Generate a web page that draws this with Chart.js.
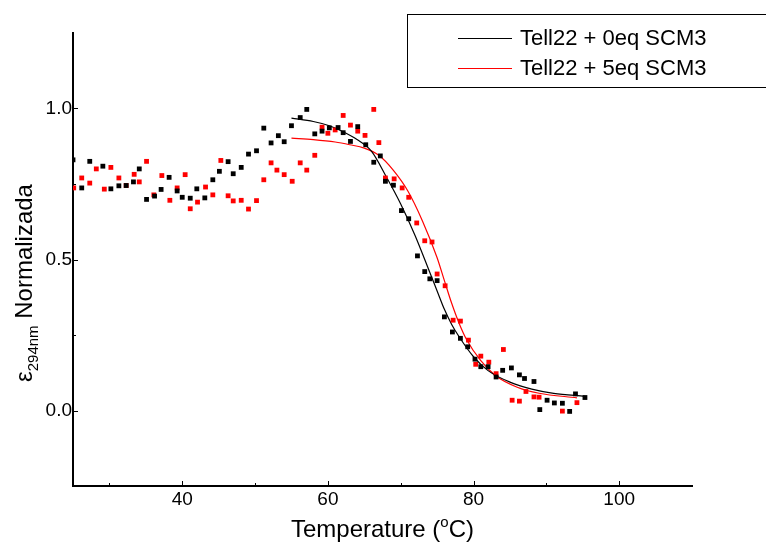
<!DOCTYPE html>
<html>
<head>
<meta charset="utf-8">
<script src="https://cdn.jsdelivr.net/npm/chart.js@4.4.0/dist/chart.umd.min.js"></script>
<style>
  html, body { margin: 0; padding: 0; background: #fff; }
  #wrap { width: 766px; height: 543px; position: relative; }
</style>
</head>
<body>
<div id="wrap"><canvas id="grafico"></canvas></div>
<script>
// Datos (T en 춿C, epsilon normalizada)
const tempNegro = [25.0, 26.2, 27.3, 29.1, 30.2, 31.3, 32.3, 33.3, 34.1, 35.1, 36.2, 37.1, 38.2, 39.3, 40.0, 41.1, 42.0, 43.1, 44.2, 45.1,
  46.3, 47.0, 48.1, 49.1, 50.2, 51.2, 52.2, 53.2, 54.0, 55.0, 56.2, 57.1, 58.2, 59.2, 60.2, 61.4, 62.1, 63.1, 64.1, 65.2,
  66.3, 67.2, 67.9, 69.0, 70.1, 71.1, 72.3, 73.3, 74.0, 75.0, 76.0, 77.1, 78.2, 79.2, 80.2, 81.0, 82.0, 83.1, 84.0, 85.2,
  86.3, 87.0, 88.3, 89.1, 90.1, 91.1, 92.2, 93.2, 94.0, 95.3];
const valNegro = [0.83, 0.737, 0.825, 0.809, 0.734, 0.744, 0.745, 0.757, 0.80, 0.699, 0.71, 0.732, 0.772, 0.727, 0.706, 0.703, 0.734, 0.704, 0.764, 0.792,
  0.824, 0.784, 0.805, 0.849, 0.86, 0.935, 0.886, 0.91, 0.89, 0.943, 0.97, 0.997, 0.916, 0.925, 0.936, 0.937, 0.92, 0.891, 0.94, 0.88,
  0.822, 0.843, 0.759, 0.746, 0.662, 0.635, 0.512, 0.46, 0.436, 0.43, 0.31, 0.26, 0.239, 0.211, 0.17, 0.145, 0.145, 0.111, 0.133, 0.141,
  0.118, 0.106, 0.096, 0.003, 0.034, 0.025, 0.024, -0.003, 0.055, 0.043];

const tempRojo = [25.1, 26.2, 27.3, 28.2, 29.3, 30.2, 31.3, 32.3, 33.4, 34.1, 35.1, 36.1, 37.2, 38.3, 39.3, 40.4, 41.1, 42.1, 43.2, 44.2,
  45.3, 46.3, 47.0, 48.1, 49.1, 50.2, 51.2, 52.2, 53.0, 54.0, 55.1, 56.2, 57.1, 58.2, 59.2, 60.0, 61.0, 62.1, 63.1, 64.1,
  65.1, 66.3, 67.0, 67.9, 69.1, 70.2, 71.1, 72.2, 73.3, 74.3, 75.0, 76.1, 77.2, 78.2, 79.3, 80.3, 81.0, 82.1, 83.1, 84.1,
  85.3, 86.3, 87.2, 88.3, 89.0, 92.2, 94.2];
const valRojo = [0.737, 0.77, 0.753, 0.80, 0.733, 0.805, 0.77, 0.745, 0.782, 0.757, 0.825, 0.714, 0.778, 0.696, 0.737, 0.781, 0.668, 0.69, 0.74, 0.714,
  0.828, 0.711, 0.694, 0.696, 0.667, 0.695, 0.764, 0.82, 0.796, 0.781, 0.759, 0.82, 0.796, 0.845, 0.938, 0.918, 0.929, 0.977, 0.945, 0.925,
  0.911, 0.997, 0.887, 0.77, 0.767, 0.737, 0.706, 0.621, 0.562, 0.558, 0.452, 0.413, 0.299, 0.296, 0.233, 0.153, 0.18, 0.16, 0.122, 0.202,
  0.034, 0.031, 0.063, 0.045, 0.044, -0.002, 0.026];

// Curvas de ajuste
const ajusteNegroT = [55, 58, 60.2, 62, 64, 66, 68, 70, 72, 74, 75, 76, 77, 78, 80, 82, 85, 88, 91, 95.3];
const ajusteNegroY = [0.968, 0.957, 0.943, 0.924, 0.897, 0.858, 0.775, 0.684, 0.578, 0.457, 0.396, 0.335, 0.285, 0.245, 0.178, 0.132, 0.094, 0.071, 0.057, 0.047];
const ajusteRojoT = [55, 58, 61, 63, 65, 67, 69, 71, 73, 75, 76, 77, 78, 79, 81, 83, 86, 89, 94.2];
const ajusteRojoY = [0.902, 0.897, 0.889, 0.88, 0.869, 0.845, 0.795, 0.726, 0.627, 0.506, 0.43, 0.355, 0.29, 0.237, 0.165, 0.116, 0.077, 0.057, 0.042];

const ticksX = [40, 60, 80, 100];
const ticksXMenor = [30, 50, 70, 90];
const ticksY = [0, 0.5, 1.0];
const ticksYMenor = [0.25, 0.75];
const leyenda = ['Tell22 + 0eq SCM3', 'Tell22 + 5eq SCM3'];

const FUENTE = '"Liberation Sans", Arial, sans-serif';
const ROJO = '#ff0000';

function puntos(xs, ys) {
  return xs.map((x, i) => ({ x: x, y: ys[i] }));
}

// marcas hacia dentro + titulos de ejes + leyenda con recuadro
const extras = {
  id: 'extras',
  afterDraw(chart) {
    const ctx = chart.ctx;
    const sx = chart.scales.x, sy = chart.scales.y;
    const a = chart.chartArea;
    ctx.save();
    ctx.strokeStyle = '#000';
    ctx.lineWidth = 1;
    ctx.beginPath();
    ticksX.forEach(v => { const p = Math.round(sx.getPixelForValue(v)) + 0.5; ctx.moveTo(p, a.bottom); ctx.lineTo(p, a.bottom - 5); });
    ticksXMenor.forEach(v => { const p = Math.round(sx.getPixelForValue(v)) + 0.5; ctx.moveTo(p, a.bottom); ctx.lineTo(p, a.bottom - 3); });
    ticksY.forEach(v => { const p = Math.round(sy.getPixelForValue(v)) + 0.5; ctx.moveTo(a.left, p); ctx.lineTo(a.left + 5, p); });
    ticksYMenor.forEach(v => { const p = Math.round(sy.getPixelForValue(v)) + 0.5; ctx.moveTo(a.left, p); ctx.lineTo(a.left + 3, p); });
    ctx.stroke();

    ctx.fillStyle = '#000';
    ctx.textBaseline = 'alphabetic';
    ctx.textAlign = 'left';

    // titulo eje X: Temperature (oC)
    const grande = '24px ' + FUENTE, chico = '15px ' + FUENTE;
    ctx.font = grande;
    const w1 = ctx.measureText('Temperature (').width;
    const w3 = ctx.measureText('C)').width;
    ctx.font = chico;
    const w2 = ctx.measureText('o').width;
    let px = (a.left + a.right) / 2 - (w1 + w2 + w3) / 2;
    const base = 537;
    ctx.font = grande; ctx.fillText('Temperature (', px, base); px += w1;
    ctx.font = chico; ctx.fillText('o', px, base - 10); px += w2;
    ctx.font = grande; ctx.fillText('C)', px, base);

    // titulo eje Y: e294nm Normalizada (rotado)
    ctx.save();
    ctx.translate(32, 382);
    ctx.rotate(-Math.PI / 2);
    let t = 0;
    ctx.font = grande; ctx.fillText('\u03B5', t, 0); t += ctx.measureText('\u03B5').width;
    ctx.font = chico; ctx.fillText('294nm', t, 6); t += ctx.measureText('294nm').width;
    ctx.font = grande; ctx.fillText(' Normalizada', t, 0);
    ctx.restore();

    // leyenda
    ctx.fillStyle = '#fff';
    ctx.fillRect(407, 14, 365, 73);
    ctx.strokeStyle = '#000';
    ctx.lineWidth = 1;
    ctx.strokeRect(407.5, 14.5, 365, 73);
    const colores = ['#000', ROJO];
    ctx.font = '22px ' + FUENTE;
    ctx.textBaseline = 'middle';
    leyenda.forEach((txt, i) => {
      const yy = 38 + i * 30;
      ctx.strokeStyle = colores[i];
      ctx.beginPath();
      ctx.moveTo(458, yy + 0.5); ctx.lineTo(512, yy + 0.5);
      ctx.stroke();
      ctx.fillStyle = '#000';
      ctx.fillText(txt, 520, yy + 1);
    });
    ctx.restore();
  }
};

document.addEventListener('DOMContentLoaded', function() {
  Chart.defaults.font.family = FUENTE;
  const ctx = document.getElementById('grafico').getContext('2d');
  new Chart(ctx, {
    type: 'scatter',
    data: {
      datasets: [
        { label: 'negro', data: puntos(tempNegro, valNegro), pointStyle: 'rect', pointRadius: 3.4,
          backgroundColor: '#000', borderWidth: 0, showLine: false },
        { label: 'rojo', data: puntos(tempRojo, valRojo), pointStyle: 'rect', pointRadius: 3.4,
          backgroundColor: ROJO, borderWidth: 0, showLine: false },
        { label: leyenda[0], data: puntos(ajusteNegroT, ajusteNegroY), showLine: true, pointRadius: 0,
          borderColor: '#000', borderWidth: 1.2, cubicInterpolationMode: 'monotone' },
        { label: leyenda[1], data: puntos(ajusteRojoT, ajusteRojoY), showLine: true, pointRadius: 0,
          borderColor: ROJO, borderWidth: 1.2, cubicInterpolationMode: 'monotone' }
      ]
    },
    options: {
      responsive: true,
      maintainAspectRatio: false,
      animation: false,
      layout: { padding: { top: 33, right: 74, left: 0, bottom: 0 } },
      plugins: { legend: { display: false }, tooltip: { enabled: false } },
      scales: {
        x: {
          type: 'linear', min: 25, max: 110,
          grid: { display: false, drawTicks: false },
          border: { display: true, color: '#000', width: 2 },
          ticks: { color: '#000', font: { size: 19 }, padding: 2, maxRotation: 0, autoSkip: false },
          afterBuildTicks: s => { s.ticks = ticksX.map(v => ({ value: v })); },
          afterFit: s => { s.height = 57; }
        },
        y: {
          type: 'linear', min: -0.25, max: 1.25,
          grid: { display: false, drawTicks: false },
          border: { display: true, color: '#000', width: 2 },
          ticks: { color: '#000', font: { size: 19 }, padding: 1, autoSkip: false,
            callback: v => Number(v).toFixed(1) },
          afterBuildTicks: s => { s.ticks = ticksY.map(v => ({ value: v })); },
          afterFit: s => { s.width = 73; }
        }
      }
    },
    plugins: [extras]
  });
});
</script>
</body>
</html>
